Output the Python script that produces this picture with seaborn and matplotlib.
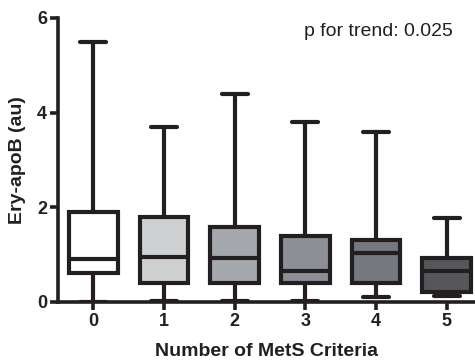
import numpy as np
import pandas as pd
import matplotlib
matplotlib.use("Agg")
import matplotlib.pyplot as plt
import seaborn as sns

# Five-number summaries of Ery-apoB per number of MetS criteria
criteria = ["0", "1", "2", "3", "4", "5"]
mins = [0.0, 0.02, 0.02, 0.02, 0.11, 0.13]
q1s = [0.62, 0.41, 0.41, 0.41, 0.41, 0.21]
medians = [0.90, 0.96, 0.92, 0.66, 1.03, 0.66]
q3s = [1.91, 1.80, 1.59, 1.40, 1.30, 0.94]
maxs = [5.50, 3.70, 4.40, 3.80, 3.60, 1.77]
box_colors = ["#ffffff", "#cdd0d3", "#a3a7ad", "#8b9097", "#74787f", "#54575c"]
p_trend = "p for trend: 0.025"

# Five points per group reproduce the summary exactly with whiskers at min/max
rows = []
for c, a, b, m, d, e in zip(criteria, mins, q1s, medians, q3s, maxs):
    for v in (a, b, m, d, e):
        rows.append({"criteria": c, "value": v})
df = pd.DataFrame(rows)

sns.set_style("ticks")
plt.rcParams["font.family"] = ["Liberation Sans", "DejaVu Sans"]

fig = plt.figure(figsize=(4.75, 3.6), dpi=100)
ax = fig.add_axes([58 / 475, 1 - 302 / 360, 1 - 58 / 475, (302 - 18) / 360])

ink = "#231f20"
sns.boxplot(
    data=df, x="criteria", y="value", hue="criteria", order=criteria,
    palette=box_colors, legend=False, whis=(0, 100), width=0.69,
    linecolor=ink, linewidth=3.0, showfliers=False, ax=ax,
    capwidths=0.37, dodge=False,
)

ax.set_xlim(-0.5, 5.4)
ax.set_ylim(0, 6)
ax.set_yticks([0, 2, 4, 6])
ax.set_yticklabels(["0", "2", "4", "6"])
for side in ("top", "right"):
    ax.spines[side].set_visible(False)
for side in ("left", "bottom"):
    ax.spines[side].set_linewidth(2.6)
    ax.spines[side].set_color(ink)
    ax.spines[side].set_zorder(0.5)
ax.tick_params(axis="both", width=2.6, length=6, color=ink, labelsize=13,
               pad=2, labelcolor=ink)
for lab in ax.get_xticklabels() + ax.get_yticklabels():
    lab.set_fontweight("bold")

ax.set_xlabel("Number of MetS Criteria", fontsize=14, fontweight="bold",
              color=ink, labelpad=9)
ax.set_ylabel("Ery-apoB (au)", fontsize=14, fontweight="bold",
              color=ink, labelpad=8)
ax.text(0.947, 0.935, p_trend, transform=ax.transAxes, ha="right",
        va="baseline", fontsize=14, color=ink)

fig.savefig("out.png", dpi=100)
